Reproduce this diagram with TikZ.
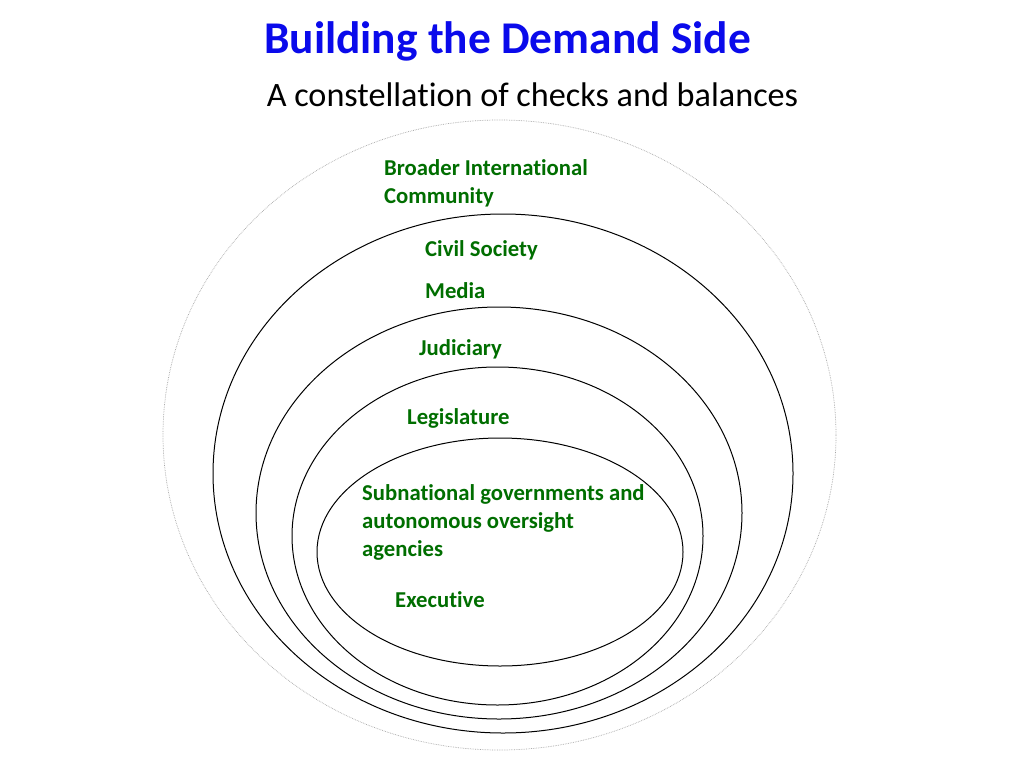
\documentclass[tikz,border=0pt]{standalone}
\usepackage{fontspec}
\setmainfont[Ligatures=NoCommon]{Carlito}
\definecolor{titleblue}{RGB}{10,10,235}
\definecolor{labelgreen}{RGB}{0,110,0}
\begin{document}
\begin{tikzpicture}[x=1pt,y=-1pt,
  ring/.style={draw=black,line width=1pt},
  outerring/.style={draw=gray!70,line width=0.7pt,densely dotted},
  lbl/.style={anchor=base west,inner sep=0pt,text=labelgreen,font=\fontsize{22.7}{27.6}\selectfont\bfseries,align=left},
]
\useasboundingbox (0,0) rectangle (1024,768);
\fill[white] (0,0) rectangle (1024,768);
% rings
\draw[outerring] (499.5,435) ellipse [x radius=336.5pt, y radius=315pt];
\draw[ring] (503,473.5) ellipse [x radius=290pt, y radius=259.5pt];
\draw[ring] (499,513) ellipse [x radius=243pt, y radius=206pt];
\draw[ring] (497.5,536) ellipse [x radius=205.5pt, y radius=169pt];
\draw[ring] (500,552) ellipse [x radius=183pt, y radius=114pt];
% titles
\node (title) [anchor=base,inner sep=0pt,text=titleblue,font=\fontsize{45.4}{52}\selectfont\bfseries] at (507.5,53) {Building the Demand Side};
\node (subtitle) [anchor=base,inner sep=0pt,font=\fontsize{34.2}{40}\selectfont] at (532.5,106) {A constellation of checks and balances};
% labels (base anchor = last line's baseline)
\node (bic) [lbl] at (384,203.3) {Broader International\\Community};
\node (civ) [lbl] at (425,256.7) {Civil Society};
\node (med) [lbl] at (425,298.3) {Media};
\node (jud) [lbl] at (419,355) {Judiciary};
\node (leg) [lbl] at (407,424) {Legislature};
\node (sub) [lbl] at (362,556) {Subnational governments and\\autonomous oversight\\agencies};
\node (exe) [lbl] at (395,607) {Executive};
\end{tikzpicture}
\end{document}
